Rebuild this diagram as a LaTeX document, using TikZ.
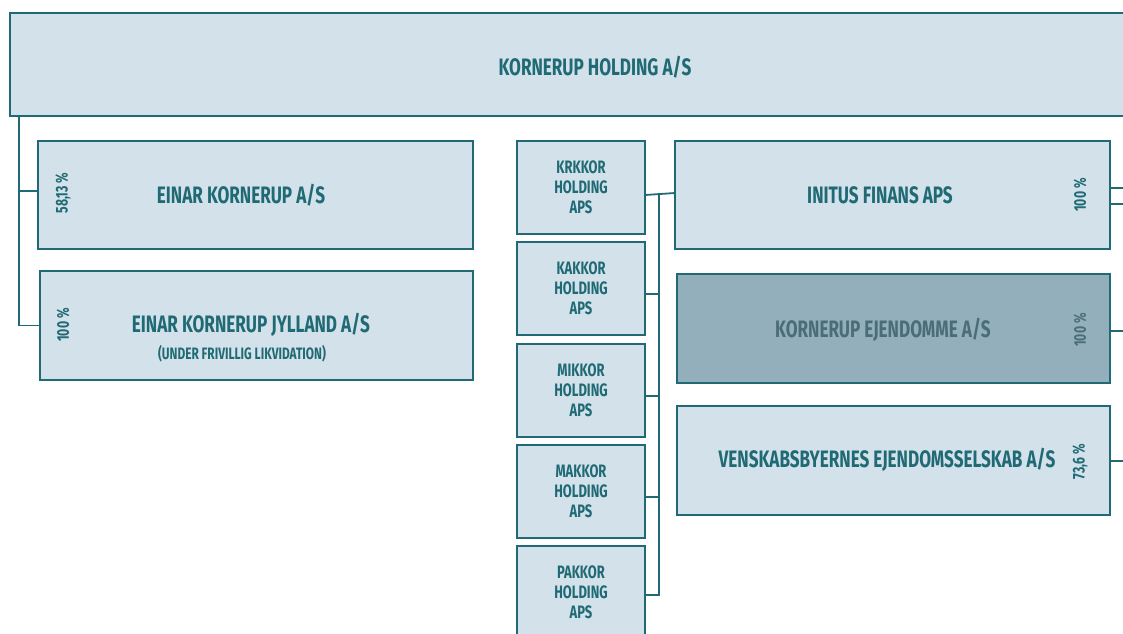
\documentclass[tikz,border=0pt]{standalone}
\usepackage{fontspec}
\newfontfamily\orgfont{Fira Sans}[FakeStretch=0.72]
\usetikzlibrary{positioning}
\definecolor{orgteal}{HTML}{1F6A74}
\definecolor{orgfill}{HTML}{D3E1EA}
\definecolor{darkfill}{HTML}{94AFBC}
\definecolor{darktext}{HTML}{4B6D79}
\tikzset{
  box/.style={draw=orgteal, line width=1.8pt, fill=orgfill, inner sep=0pt, outer sep=0pt},
  link/.style={draw=orgteal, line width=1.8pt},
  title/.style={font=\orgfont\bfseries\fontsize{23.8}{26}\selectfont, text=orgteal},
  small/.style={font=\orgfont\bfseries\fontsize{18}{20}\selectfont, text=orgteal, align=center},
  pct/.style={font=\orgfont\bfseries\fontsize{17}{18}\selectfont, text=orgteal, rotate=90},
  sub/.style={font=\orgfont\bfseries\fontsize{16.5}{18}\selectfont, text=orgteal}
}

\begin{document}
\begin{tikzpicture}[x=1pt, y=-1pt]
        \useasboundingbox (0,0) rectangle (1123,633);
        \clip (0,0) rectangle (1123,633);

        % top company
        \node[box, minimum width=1170pt, minimum height=103pt] (top) at (595,64.5) {};
        \node[title] (toptext) at (595,67) {KORNERUP HOLDING A/S};

        % left column
        \node[box, minimum width=435pt, minimum height=108pt] (einar) at (255.5,195) {};
        \node[title] (einartext) at (241,195) {EINAR KORNERUP A/S};
        \node[pct] (einarpct) at (63,193) {58,13 \%};

        \node[box, minimum width=433pt, minimum height=109pt] (jylland) at (256.5,325.5) {};
        \node[title] (jyllandtext) at (251,325) {EINAR KORNERUP JYLLAND A/S};
        \node[sub] (jyllandsub) at (242,354) {(UNDER FRIVILLIG LIKVIDATION)};
        \node[pct] (jyllandpct) at (63,325) {100 \%};

        % holding companies
        \node[box, small, minimum width=128pt, minimum height=93pt] (krkkor) at (581,187.5) {KRKKOR\\HOLDING\\APS};
        \node[box, small, minimum width=128pt, minimum height=93pt] (kakkor) at (581,288.5) {KAKKOR\\HOLDING\\APS};
        \node[box, small, minimum width=128pt, minimum height=93pt] (mikkor) at (581,390.5) {MIKKOR\\HOLDING\\APS};
        \node[box, small, minimum width=128pt, minimum height=93pt] (makkor) at (581,491.5) {MAKKOR\\HOLDING\\APS};
        \node[box, small, minimum width=128pt, minimum height=93pt] (pakkor) at (581,592.5) {PAKKOR\\HOLDING\\APS};

        % right column
        \node[box, minimum width=435pt, minimum height=108pt] (initus) at (892.5,195) {};
        \node[title] (initustext) at (880,195) {INITUS FINANS APS};
        \node[pct] (inituspct) at (1080,195) {100 \%};

        \node[box, fill=darkfill, minimum width=433pt, minimum height=109pt] (ejendomme) at (893.5,328.5) {};
        \node[title, text=darktext] (ejendommetext) at (883,330) {KORNERUP EJENDOMME A/S};
        \node[pct, text=darktext] (ejendommepct) at (1080,330) {100 \%};

        \node[box, minimum width=433pt, minimum height=109pt] (venskab) at (893.5,460.5) {};
        \node[title] (venskabtext) at (887,460) {VENSKABSBYERNES EJENDOMSSELSKAB A/S};
        \node[pct] (venskabpct) at (1080,462) {73,6 \%};

        % connectors
        \coordinate (lbus) at (19,116);
        \draw[link] (lbus) |- ([yshift=4pt]einar.west);
        \draw[link] (lbus) |- (jylland.west);

        \coordinate (mbus) at (659,193);
        \coordinate (mend) at (659,595);
        \draw[link] (krkkor.east |- initus.west) -- ([yshift=2pt]initus.west);
        \draw[link] (mbus) -- (mend) -- ([yshift=-2.5pt]pakkor.east);
        \draw[link] ([yshift=-5.5pt]kakkor.east) -- ++(14,0);
        \draw[link] ([yshift=-5.5pt]mikkor.east) -- ++(14,0);
        \draw[link] ([yshift=-5.5pt]makkor.east) -- ++(14,0);

        \coordinate (edge1) at (1130,188);
        \coordinate (edge2) at (1130,204);
        \coordinate (edge3) at (1130,331);
        \coordinate (edge4) at (1130,461);
        \draw[link] (initus.east |- edge1) -- (edge1);
        \draw[link] (initus.east |- edge2) -- (edge2);
        \draw[link] (ejendomme.east |- edge3) -- (edge3);
        \draw[link] (venskab.east |- edge4) -- (edge4);
\end{tikzpicture}
\end{document}
